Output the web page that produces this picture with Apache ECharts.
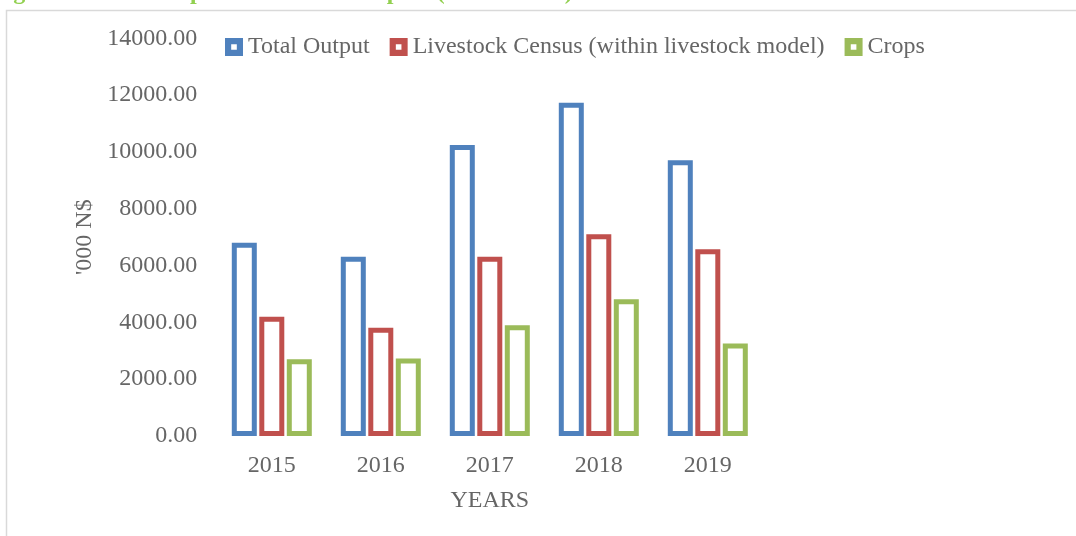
<!DOCTYPE html>
<html>
<head>
<meta charset="utf-8">
<script src="https://cdn.jsdelivr.net/npm/echarts@6/dist/echarts.min.js"></script>
<style>
  html, body { margin: 0; padding: 0; background: #fff; }
  #chart { width: 1076px; height: 536px; }
</style>
</head>
<body>
<div id="chart"></div>
<script>
// values ('000 N$)
var years = ["2015", "2016", "2017", "2018", "2019"];
var totalOutput = [6800, 6310, 10240, 11730, 9710];
var livestockCensus = [4200, 3810, 6310, 7100, 6570];
var crops = [2700, 2730, 3900, 4810, 3260];
var seriesNames = ["Total Output", "Livestock Census (within livestock model)", "Crops"];
var seriesColors = ["#4f81bd", "#c0504d", "#9bbb59"];

var font = "'Liberation Serif', 'Times New Roman', serif";
var textGray = "#666666";
// hollow square marker like the Excel legend key
var keyIcon = "path://M0,0H16V16H0Z M5.5,5.5V10.5H10.5V5.5Z";
var myChart = echarts.init(document.getElementById("chart"), null, { renderer: "canvas" });

function barSeries(i, values) {
  return {
    name: seriesNames[i],
    type: "bar",
    barWidth: 25,
    barGap: "10%",
    itemStyle: {
      color: "#ffffff",
      borderColor: seriesColors[i],
      borderWidth: 5
    },
    data: values
  };
}

var option = {
  animation: false,
  backgroundColor: "#ffffff",
  graphic: [
    {
      // frame of the chart area
      type: "rect",
      shape: { x: 6.5, y: 10.5, width: 1200, height: 600 },
      style: { fill: null, stroke: "#d9d9d9", lineWidth: 1.5 }
    },
    {
      // caption of the figure, cut off by the top of the picture
      type: "text",
      x: -8,
      y: 5,
      style: {
        text: "Figure 6: Total Output and Sector Outputs (2015 \u2013 2019)",
        font: "bold 24px " + font,
        fill: "#92d050",
        verticalAlign: "bottom"
      }
    }
  ],
  legend: {
    left: 225,
    top: 35,
    padding: 0,
    itemGap: 20,
    itemWidth: 18,
    itemHeight: 18,
    textStyle: { fontFamily: font, fontSize: 24, color: textGray },
    data: seriesNames.map(function (n, i) {
      return {
        name: n,
        icon: keyIcon,
        itemStyle: { color: seriesColors[i], borderWidth: 0 }
      };
    })
  },
  grid: {
    left: 217.3,
    right: 313.7,
    top: 38.3,
    bottom: 100
  },
  xAxis: {
    type: "category",
    data: years,
    name: "YEARS",
    nameLocation: "middle",
    nameGap: 53,
    nameTextStyle: { fontFamily: font, fontSize: 24, color: textGray },
    axisLine: { show: false },
    axisTick: { show: false },
    axisLabel: { fontFamily: font, fontSize: 24, color: textGray, margin: 18 }
  },
  yAxis: {
    type: "value",
    min: 0,
    max: 14000,
    interval: 2000,
    name: "'000 N$",
    nameLocation: "middle",
    nameGap: 120,
    nameTextStyle: { fontFamily: font, fontSize: 24, color: textGray },
    axisLine: { show: false },
    axisTick: { show: false },
    splitLine: { show: false },
    axisLabel: {
      fontFamily: font,
      fontSize: 24,
      color: textGray,
      margin: 20,
      formatter: function (v) { return v.toFixed(2); }
    }
  },
  series: [
    barSeries(0, totalOutput),
    barSeries(1, livestockCensus),
    barSeries(2, crops)
  ]
};

myChart.setOption(option);
window.addEventListener("resize", myChart.resize);
</script>
</body>
</html>
